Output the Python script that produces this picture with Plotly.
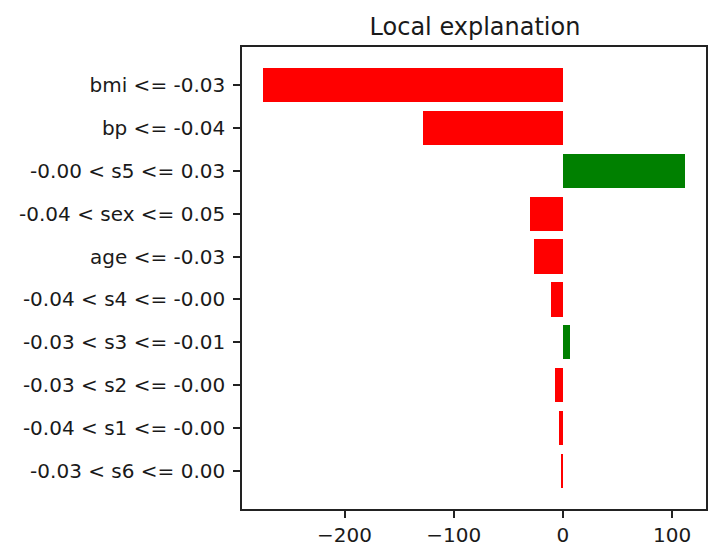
import plotly.graph_objects as go

labels = ["bmi <= -0.03", "bp <= -0.04", "-0.00 < s5 <= 0.03", "-0.04 < sex <= 0.05",
          "age <= -0.03", "-0.04 < s4 <= -0.00", "-0.03 < s3 <= -0.01",
          "-0.03 < s2 <= -0.00", "-0.04 < s1 <= -0.00", "-0.03 < s6 <= 0.00"]
values = [-274.6, -128.0, 111.8, -30.5, -26.5, -11.3, 6.4, -7.3, -3.1, -1.8]
x_ticks = [-200, -100, 0, 100]
x_ticklabels = ["\u2212200", "\u2212100", "0", "100"]

colors = ["green" if v > 0 else "red" for v in values]

fig = go.Figure(go.Bar(
    x=values, y=labels, orientation="h", width=0.8,
    marker=dict(color=colors, line=dict(width=0)),
))

lo, hi = min(values), max(values)
pad = (hi - lo) * 0.05
n = len(labels)

fig.update_layout(
    width=718, height=557,
    margin=dict(l=242, r=10, t=47, b=47),
    paper_bgcolor="white", plot_bgcolor="white",
    font=dict(family="DejaVu Sans", size=20, color="#1a1a1a"),
    title=dict(text="Local explanation", x=(242 + 708) / 2 / 718, xanchor="center",
               y=1 - 27 / 557, yanchor="middle", font=dict(size=24, color="#1a1a1a")),
    showlegend=False,
    bargap=0,
)
fig.update_xaxes(
    range=[lo - pad, hi + pad], tickvals=x_ticks, ticktext=x_ticklabels,
    showgrid=False, zeroline=False, showline=True, linecolor="#222", linewidth=1.5,
    mirror=True, ticks="outside", ticklen=7, tickwidth=1.5, tickcolor="#222",
)
fig.update_yaxes(
    type="category", categoryorder="array", categoryarray=labels,
    range=[n - 1 + 0.4 + 0.49, -0.4 - 0.49],
    showgrid=False, zeroline=False, showline=True, linecolor="#222", linewidth=1.5,
    mirror=True, ticks="outside", ticklen=7, tickwidth=1.5, tickcolor="#222",
    ticklabelstandoff=4,
)

fig.write_html("out.html")
